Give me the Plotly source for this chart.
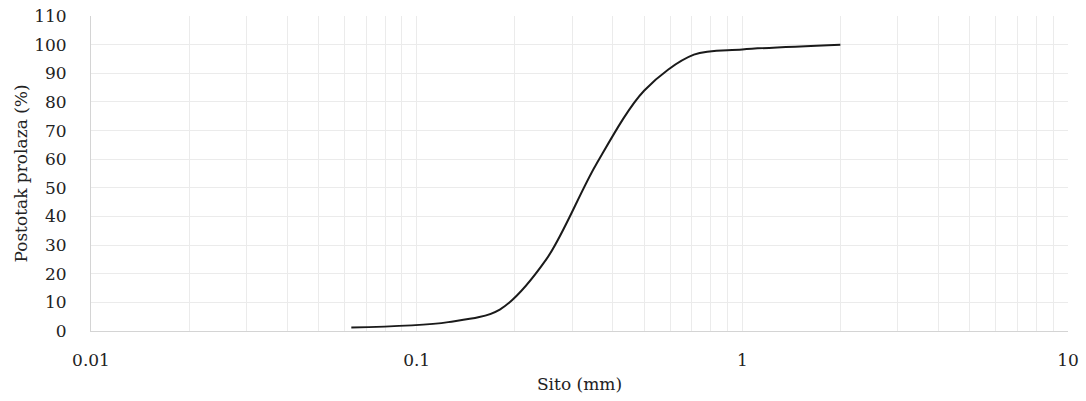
import plotly.graph_objects as go

sieve_mm = [0.063, 0.125, 0.18, 0.25, 0.355, 0.5, 0.71, 1.0, 2.0]
passing_pct = [1.2, 3.1, 7.5, 25.0, 58.0, 84.0, 96.5, 98.3, 100.0]

x_title = "Sito (mm)"
y_title = "Postotak prolaza (%)"
y_ticks = list(range(0, 111, 10))
x_tickvals = [0.01, 0.1, 1, 10]
x_ticktext = ["0.01", "0.1", "1", "10"]

FONT = "DejaVu Serif"
GRID = "#ebebeb"

fig = go.Figure()
fig.add_trace(go.Scatter(
    x=sieve_mm, y=passing_pct, mode="lines",
    line=dict(color="#1a1a1a", width=2, shape="spline", smoothing=0.9),
    showlegend=False, hoverinfo="x+y",
))

fig.update_layout(
    width=1086, height=401,
    margin=dict(l=91, r=18, t=16, b=70),
    paper_bgcolor="white", plot_bgcolor="white",
    font=dict(family=FONT, size=17, color="#222222"),
    xaxis=dict(
        type="log", range=[-2, 1], automargin=False,
        tickvals=x_tickvals, ticktext=x_ticktext,
        showgrid=True, gridcolor=GRID, gridwidth=1,
        minor=dict(dtick="D1", showgrid=True, gridcolor=GRID, gridwidth=1, ticks=""),
        showline=True, linecolor="#d4d4d4", linewidth=1,
        ticks="", ticklabelstandoff=14,
        zeroline=False,
        title=dict(text=x_title, font=dict(family=FONT, size=17), standoff=8),
    ),
    yaxis=dict(
        range=[0, 110], tickvals=y_ticks, automargin=False,
        showgrid=True, gridcolor=GRID, gridwidth=1,
        showline=True, linecolor="#d4d4d4", linewidth=1,
        ticks="", ticklabelstandoff=20, ticklabeloverflow="allow",
        zeroline=False,
        title=dict(text=y_title, font=dict(family=FONT, size=17), standoff=2),
    ),
)

fig.write_html("out.html", config={"displayModeBar": False},
               post_script="document.body.style.margin='0px';")
